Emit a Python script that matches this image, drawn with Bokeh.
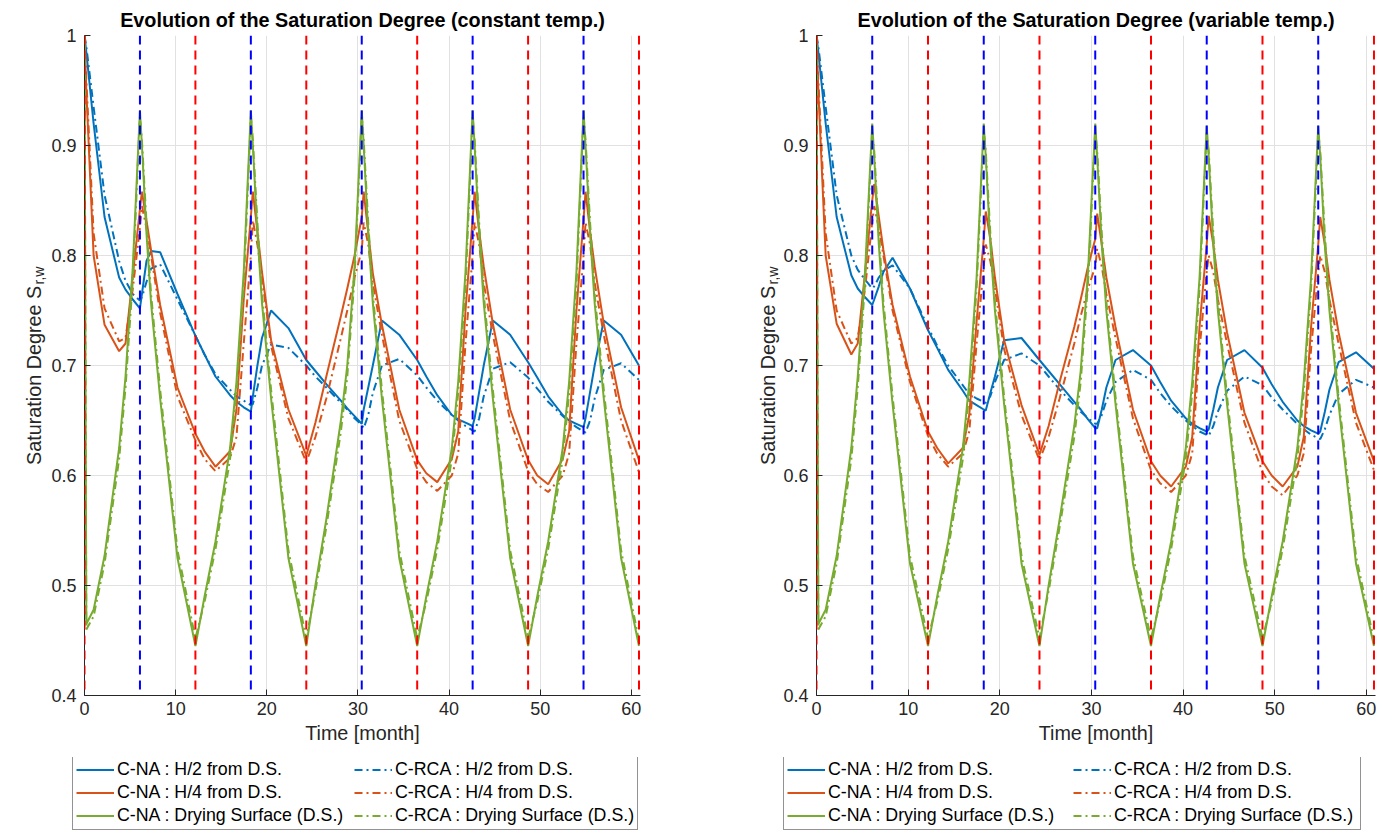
import math
from bokeh.plotting import figure
from bokeh.models import Range1d, FixedTicker, Legend, LegendItem, Span, Spacer
from bokeh.core.properties import value
from bokeh.layouts import row, column
from bokeh.embed import file_html
from bokeh.resources import INLINE

# ---------------- data ----------------
TIME = [0, 0.2, 1.0, 2.2, 3.8, 4.5, 5.3, 6.08, 6.3, 6.8, 7.3, 8.3, 10.2,
        12.17, 13.17, 14.37, 15.97, 16.67, 17.47, 18.25, 18.47, 18.97, 19.47, 20.47, 22.37,
        24.33, 25.33, 26.53, 28.13, 28.83, 29.63, 30.42, 30.63, 31.13, 31.63, 32.63, 34.53,
        36.5, 37.5, 38.7, 40.3, 41.0, 41.8, 42.58, 42.8, 43.3, 43.8, 44.8, 46.7,
        48.67, 49.67, 50.87, 52.47, 53.17, 53.97, 54.75, 54.97, 55.47, 55.97, 56.97, 58.87,
        60.83]

# constant temperature
CONST_NA_H2 = [1.0, 0.985, 0.92, 0.835, 0.78, 0.769, 0.76, 0.752, 0.765, 0.795, 0.804, 0.803, 0.765,
               0.727, 0.71, 0.69, 0.673, 0.667, 0.662, 0.658, 0.672, 0.70, 0.725, 0.75, 0.734,
               0.705, 0.695, 0.683, 0.668, 0.661, 0.654, 0.647, 0.66, 0.68, 0.70, 0.741, 0.728,
               0.705, 0.69, 0.673, 0.655, 0.651, 0.648, 0.645, 0.652, 0.676, 0.70, 0.741, 0.728,
               0.703, 0.689, 0.672, 0.655, 0.65, 0.647, 0.644, 0.652, 0.676, 0.70, 0.741, 0.728,
               0.70]
CONST_RCA_H2 = [1.0, 0.99, 0.935, 0.855, 0.795, 0.777, 0.765, 0.759, 0.762, 0.776, 0.788, 0.792, 0.76,
                0.727, 0.71, 0.692, 0.678, 0.672, 0.668, 0.664, 0.665, 0.68, 0.70, 0.719, 0.716,
                0.70, 0.69, 0.68, 0.666, 0.66, 0.652, 0.646, 0.643, 0.655, 0.675, 0.70, 0.706,
                0.691, 0.68, 0.668, 0.655, 0.65, 0.645, 0.641, 0.640, 0.652, 0.672, 0.697, 0.703,
                0.689, 0.679, 0.667, 0.654, 0.649, 0.644, 0.64, 0.639, 0.65, 0.67, 0.696, 0.702,
                0.687]
CONST_NA_H4 = [1.0, 0.95, 0.80, 0.737, 0.713, 0.72, 0.782, 0.842, 0.858, 0.832, 0.805, 0.755, 0.68,
               0.638, 0.622, 0.608, 0.622, 0.66, 0.76, 0.835, 0.858, 0.822, 0.785, 0.723, 0.66,
               0.618, 0.648, 0.69, 0.745, 0.77, 0.80, 0.835, 0.858, 0.821, 0.784, 0.737, 0.66,
               0.614, 0.602, 0.594, 0.615, 0.64, 0.75, 0.833, 0.858, 0.822, 0.79, 0.738, 0.66,
               0.614, 0.600, 0.592, 0.615, 0.64, 0.75, 0.833, 0.858, 0.822, 0.79, 0.738, 0.662,
               0.614]
CONST_RCA_H4 = [1.0, 0.96, 0.82, 0.752, 0.722, 0.725, 0.77, 0.825, 0.845, 0.825, 0.80, 0.748, 0.672,
                0.632, 0.615, 0.604, 0.616, 0.635, 0.72, 0.80, 0.832, 0.81, 0.78, 0.718, 0.652,
                0.612, 0.635, 0.67, 0.725, 0.75, 0.78, 0.805, 0.83, 0.81, 0.775, 0.728, 0.65,
                0.606, 0.594, 0.586, 0.60, 0.62, 0.72, 0.80, 0.83, 0.81, 0.775, 0.728, 0.65,
                0.604, 0.592, 0.585, 0.60, 0.62, 0.72, 0.80, 0.83, 0.81, 0.775, 0.728, 0.65,
                0.603]
CONST_NA_DS = [1.0, 0.465, 0.478, 0.527, 0.625, 0.69, 0.79, 0.932, 0.90, 0.82, 0.757, 0.67, 0.525,
               0.445, 0.49, 0.54, 0.625, 0.685, 0.785, 0.932, 0.90, 0.82, 0.757, 0.67, 0.525,
               0.445, 0.50, 0.56, 0.65, 0.70, 0.79, 0.932, 0.90, 0.82, 0.757, 0.67, 0.525,
               0.445, 0.49, 0.54, 0.625, 0.685, 0.785, 0.932, 0.90, 0.82, 0.757, 0.67, 0.525,
               0.445, 0.49, 0.54, 0.625, 0.685, 0.785, 0.932, 0.90, 0.82, 0.757, 0.67, 0.525,
               0.445]
CONST_RCA_DS = [1.0, 0.46, 0.472, 0.52, 0.615, 0.68, 0.778, 0.926, 0.905, 0.83, 0.765, 0.678, 0.532,
                0.452, 0.485, 0.533, 0.615, 0.675, 0.772, 0.926, 0.905, 0.83, 0.765, 0.678, 0.532,
                0.452, 0.495, 0.553, 0.64, 0.69, 0.78, 0.926, 0.905, 0.83, 0.765, 0.678, 0.532,
                0.452, 0.485, 0.533, 0.615, 0.675, 0.772, 0.926, 0.905, 0.83, 0.765, 0.678, 0.532,
                0.452, 0.485, 0.533, 0.615, 0.675, 0.772, 0.926, 0.905, 0.83, 0.765, 0.678, 0.532,
                0.45]

# variable temperature
VAR_NA_H2 = [1.0, 0.985, 0.92, 0.835, 0.782, 0.77, 0.762, 0.755, 0.76, 0.772, 0.785, 0.798, 0.77,
             0.732, 0.716, 0.696, 0.677, 0.668, 0.664, 0.66, 0.659, 0.675, 0.69, 0.723, 0.725,
             0.705, 0.695, 0.683, 0.667, 0.66, 0.651, 0.643, 0.643, 0.66, 0.68, 0.705, 0.714,
             0.70, 0.685, 0.668, 0.652, 0.647, 0.643, 0.64, 0.642, 0.66, 0.68, 0.705, 0.714,
             0.698, 0.683, 0.667, 0.65, 0.645, 0.641, 0.638, 0.64, 0.658, 0.678, 0.703, 0.712,
             0.697]
VAR_RCA_H2 = [1.0, 0.99, 0.935, 0.855, 0.80, 0.787, 0.778, 0.77, 0.772, 0.78, 0.786, 0.791, 0.77,
              0.735, 0.718, 0.70, 0.682, 0.674, 0.67, 0.667, 0.666, 0.672, 0.685, 0.705, 0.711,
              0.70, 0.69, 0.678, 0.664, 0.658, 0.652, 0.647, 0.647, 0.655, 0.668, 0.685, 0.696,
              0.687, 0.675, 0.663, 0.65, 0.645, 0.64, 0.637, 0.636, 0.645, 0.658, 0.677, 0.69,
              0.682, 0.671, 0.66, 0.647, 0.642, 0.637, 0.634, 0.633, 0.642, 0.655, 0.674, 0.687,
              0.68]
VAR_NA_H4 = [1.0, 0.95, 0.80, 0.738, 0.71, 0.72, 0.785, 0.85, 0.865, 0.835, 0.805, 0.755, 0.69,
             0.64, 0.625, 0.611, 0.625, 0.655, 0.74, 0.815, 0.84, 0.815, 0.78, 0.723, 0.664,
             0.619, 0.645, 0.685, 0.735, 0.76, 0.79, 0.815, 0.838, 0.81, 0.78, 0.735, 0.66,
             0.613, 0.60, 0.59, 0.608, 0.635, 0.735, 0.81, 0.836, 0.81, 0.778, 0.73, 0.657,
             0.613, 0.60, 0.59, 0.608, 0.635, 0.735, 0.81, 0.835, 0.81, 0.778, 0.73, 0.657,
             0.613]
VAR_RCA_H4 = [1.0, 0.96, 0.82, 0.75, 0.72, 0.725, 0.77, 0.83, 0.845, 0.825, 0.80, 0.75, 0.685,
              0.636, 0.62, 0.608, 0.62, 0.64, 0.72, 0.79, 0.81, 0.795, 0.77, 0.715, 0.655,
              0.614, 0.635, 0.67, 0.72, 0.745, 0.77, 0.79, 0.806, 0.79, 0.765, 0.725, 0.652,
              0.605, 0.593, 0.585, 0.60, 0.62, 0.715, 0.785, 0.80, 0.785, 0.76, 0.72, 0.648,
              0.603, 0.59, 0.582, 0.60, 0.62, 0.715, 0.785, 0.80, 0.785, 0.76, 0.72, 0.648,
              0.605]
VAR_NA_DS = [1.0, 0.465, 0.478, 0.527, 0.625, 0.69, 0.785, 0.92, 0.89, 0.81, 0.75, 0.665, 0.52,
             0.445, 0.49, 0.54, 0.625, 0.685, 0.78, 0.92, 0.89, 0.81, 0.75, 0.665, 0.52,
             0.445, 0.50, 0.56, 0.645, 0.695, 0.785, 0.92, 0.89, 0.81, 0.75, 0.665, 0.52,
             0.445, 0.49, 0.54, 0.625, 0.685, 0.78, 0.918, 0.89, 0.81, 0.75, 0.665, 0.52,
             0.445, 0.49, 0.54, 0.625, 0.685, 0.78, 0.918, 0.89, 0.81, 0.75, 0.665, 0.52,
             0.445]
VAR_RCA_DS = [1.0, 0.46, 0.472, 0.52, 0.615, 0.68, 0.775, 0.913, 0.895, 0.82, 0.758, 0.672, 0.527,
              0.452, 0.485, 0.533, 0.615, 0.675, 0.77, 0.913, 0.895, 0.82, 0.758, 0.672, 0.527,
              0.452, 0.495, 0.553, 0.635, 0.685, 0.775, 0.913, 0.895, 0.82, 0.758, 0.672, 0.527,
              0.452, 0.485, 0.533, 0.615, 0.675, 0.77, 0.912, 0.895, 0.82, 0.758, 0.672, 0.527,
              0.452, 0.485, 0.533, 0.615, 0.675, 0.77, 0.912, 0.895, 0.82, 0.758, 0.672, 0.527,
              0.45]

# wetting / drying switch times [month]
BLUE_LINES = [6.083, 18.25, 30.417, 42.583, 54.75]
RED_LINES = [0.0, 12.167, 24.333, 36.5, 48.667, 60.833]

X_TICKS = [0, 10, 20, 30, 40, 50, 60]
X_TICK_LABELS = ["0", "10", "20", "30", "40", "50", "60"]
Y_TICKS = [0.4, 0.5, 0.6, 0.7, 0.8, 0.9, 1.0]
Y_TICK_LABELS = ["0.4", "0.5", "0.6", "0.7", "0.8", "0.9", "1"]

TITLES = ["Evolution of the Saturation Degree (constant temp.)",
          "Evolution of the Saturation Degree (variable temp.)"]
LABELS = ["C-NA : H/2 from D.S.", "C-RCA : H/2 from D.S.",
          "C-NA : H/4 from D.S.", "C-RCA : H/4 from D.S.",
          "C-NA : Drying Surface (D.S.)", "C-RCA : Drying Surface (D.S.)"]
LEGEND_ORDER = [0, 2, 4, 1, 3, 5]   # column-major: C-NA column, then C-RCA column
Y_LABEL = "Saturation Degree S"
Y_LABEL_SUB = "r,w"
X_LABEL = "Time [month]"

# ---------------- style ----------------
FONT = "Liberation Sans"
C_BLUE, C_ORANGE, C_GREEN = "#0072BD", "#D95319", "#77AC30"
AX = "#262626"
DASHDOT = "8 4 2 4"
STYLES = [(C_BLUE, "solid"), (C_BLUE, DASHDOT), (C_ORANGE, "solid"), (C_ORANGE, DASHDOT),
          (C_GREEN, "solid"), (C_GREEN, DASHDOT)]
PLOT_H = 757
LEG_H = 74
FRAME_TOP, FRAME_H = 35, 660


def make_ylabel(width, base_x):
    """narrow strip holding the rotated y-axis title with its subscript
    (its frame is aligned by the row layout with the panel frames)"""
    q = figure(width=width, height=PLOT_H, output_backend="svg", toolbar_location=None,
               x_range=Range1d(0, width), y_range=Range1d(0, FRAME_H),
               x_axis_location=None, y_axis_location=None,
               min_border_left=0, min_border_right=0,
               min_border_top=FRAME_TOP, min_border_bottom=PLOT_H - FRAME_TOP - FRAME_H)
    q.outline_line_color = None
    q.xgrid.visible = False
    q.ygrid.visible = False
    y0 = FRAME_TOP + FRAME_H - 464.5
    q.text(x=[base_x], y=[y0], text=[Y_LABEL], angle=math.pi / 2,
           text_align="left", text_baseline="alphabetic",
           text_font=value(FONT), text_font_size=value("19.8px"), text_color=AX)
    q.text(x=[base_x + 5], y=[y0 + 180.5], text=[Y_LABEL_SUB], angle=math.pi / 2,
           text_align="left", text_baseline="alphabetic",
           text_font=value(FONT), text_font_size=value("14px"), text_color=AX)
    return q


def make_panel(title, series, width, bl, br):
    p = figure(width=width, height=PLOT_H, output_backend="svg", toolbar_location=None,
               x_range=Range1d(0, 61), y_range=Range1d(0.4, 1.0),
               min_border_left=bl, min_border_right=br, min_border_top=FRAME_TOP,
               min_border_bottom=PLOT_H - FRAME_TOP - FRAME_H)
    p.outline_line_color = None
    p.title.text = title
    p.title.align = "center"
    p.title.text_font = FONT
    p.title.text_font_size = "19.8px"
    p.title.text_font_style = "bold"
    p.title.text_color = "black"
    p.title.standoff = 10

    for ax, ticks, labels in ((p.xaxis, X_TICKS, X_TICK_LABELS), (p.yaxis, Y_TICKS, Y_TICK_LABELS)):
        ax.ticker = FixedTicker(ticks=ticks)
        ax.major_label_overrides = dict(zip(ticks, labels))
        ax.minor_tick_line_color = None
        ax.major_tick_in = 6
        ax.major_tick_out = 0
        ax.major_tick_line_color = AX
        ax.axis_line_color = AX
        ax.axis_line_width = 1
        ax.major_label_text_font = FONT
        ax.major_label_text_font_size = "18px"
        ax.major_label_text_color = AX
    p.xaxis.major_label_standoff = 6
    p.yaxis.major_label_standoff = 8
    p.xaxis.axis_label = X_LABEL
    p.xaxis.axis_label_text_font = FONT
    p.xaxis.axis_label_text_font_size = "19.8px"
    p.xaxis.axis_label_text_font_style = "normal"
    p.xaxis.axis_label_text_color = AX
    p.xaxis.axis_label_standoff = 4

    for g in (p.xgrid, p.ygrid):
        g.grid_line_color = "#e1e1e1"
        g.grid_line_width = 1
    p.xgrid.ticker = FixedTicker(ticks=X_TICKS)
    p.ygrid.ticker = FixedTicker(ticks=Y_TICKS)

    for vals, (col, dash) in zip(series, STYLES):
        p.line(TIME, vals, line_color=col, line_width=2, line_dash=dash)

    for t in BLUE_LINES:
        p.add_layout(Span(location=t, dimension="height", line_color="#0000FF",
                          line_width=2, line_dash="9 6"))
    for t in RED_LINES:
        p.add_layout(Span(location=t, dimension="height", line_color="#FF0000",
                          line_width=2, line_dash="9 6"))
    return p


def make_legend(series, width, label_width):
    """legend box shown under each panel; the series are drawn off-range so that
    only the legend samples are visible"""
    q = figure(width=width, height=LEG_H, output_backend="svg", toolbar_location=None,
               x_range=Range1d(-2, -1), y_range=Range1d(-2, -1),
               x_axis_location=None, y_axis_location=None,
               min_border_left=0, min_border_right=0, min_border_top=0, min_border_bottom=0)
    q.outline_line_color = None
    q.xgrid.visible = False
    q.ygrid.visible = False
    rends = []
    for vals, (col, dash) in zip(series, STYLES):
        rends.append(q.line(TIME, vals, line_color=col, line_width=2, line_dash=dash))
    items = [LegendItem(label=LABELS[i], renderers=[rends[i]]) for i in LEGEND_ORDER]
    leg = Legend(items=items, ncols=2, location=(1, 1),
                 label_text_font=FONT, label_text_font_size="17.8px", label_text_color="black",
                 glyph_width=38, glyph_height=19, label_height=19, label_width=label_width,
                 label_standoff=3, spacing=2, padding=3, margin=0,
                 border_line_color=AX, border_line_width=1,
                 background_fill_color="white", background_fill_alpha=1.0)
    q.add_layout(leg, "center")
    return q


CONST_SERIES = [CONST_NA_H2, CONST_RCA_H2, CONST_NA_H4, CONST_RCA_H4, CONST_NA_DS, CONST_RCA_DS]
VAR_SERIES = [VAR_NA_H2, VAR_RCA_H2, VAR_NA_H4, VAR_RCA_H4, VAR_NA_DS, VAR_RCA_DS]

lab1 = make_ylabel(48, 33)
p1 = make_panel(TITLES[0], CONST_SERIES, 660, 32, 68)
lab2 = make_ylabel(72, 59)
p2 = make_panel(TITLES[1], VAR_SERIES, 612, 35, 17)

leg1 = make_legend(CONST_SERIES, 572, 235)
leg2 = make_legend(VAR_SERIES, 602, 243)

layout = column(row(lab1, p1, lab2, p2),
                row(Spacer(width=71, height=LEG_H), leg1, Spacer(width=139, height=LEG_H), leg2))
open("out.html", "w").write(file_html(layout, INLINE))
